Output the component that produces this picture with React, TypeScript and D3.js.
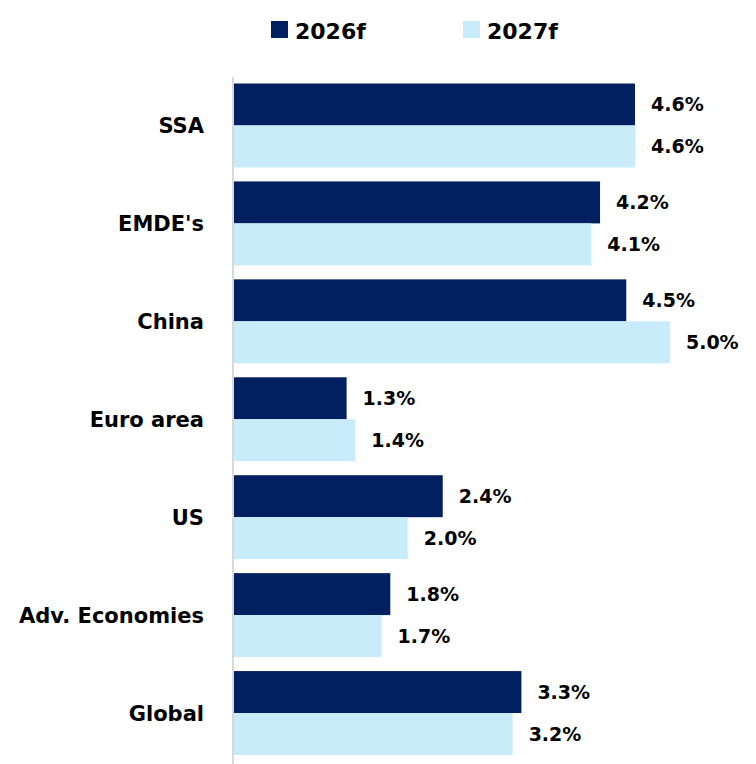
import React from "react";
import * as d3 from "d3";

const categories = ["SSA", "EMDE's", "China", "Euro area", "US", "Adv. Economies", "Global"];
const series2026 = [4.6, 4.2, 4.5, 1.3, 2.4, 1.8, 3.3];
const series2027 = [4.6, 4.1, 5.0, 1.4, 2.0, 1.7, 3.2];
const seriesNames = ["2026f", "2027f"];
const colors = ["#002060", "#c9ecfb"];

const W = 756;
const H = 764;
const FONT = "'DejaVu Sans', sans-serif";

export default function App() {
  const x = d3.scaleLinear().domain([0, 4.6]).range([233, 635]);
  const y = d3
    .scaleBand<string>()
    .domain(categories)
    .range([76.5, 762])
    .paddingInner(0.143)
    .paddingOuter(0.0715);
  const sub = d3.scaleBand<string>().domain(seriesNames).range([0, y.bandwidth()]);
  const all = [series2026, series2027];

  return (
    <svg width={W} height={H} style={{ position: "absolute", left: 0, top: 0, background: "#fff" }}>
      {/* legend */}
      {seriesNames.map((s, i) => (
        <g key={s} transform={`translate(${i === 0 ? 271 : 463},0)`}>
          <rect x={0} y={21} width={17} height={17} fill={colors[i]} />
          <text x={24} y={39} fontFamily={FONT} fontWeight="bold" fontSize={22} fill="#000">
            {s}
          </text>
        </g>
      ))}
      {/* bars */}
      {categories.map((c, ci) => (
        <g key={c}>
          {all.map((vals, si) => {
            const y0 = (y(c) as number) + (sub(seriesNames[si]) as number);
            return (
              <g key={si}>
                <rect
                  x={x(0)}
                  y={y0}
                  width={x(vals[ci]) - x(0)}
                  height={sub.bandwidth()}
                  fill={colors[si]}
                />
                <text
                  x={x(vals[ci]) + 16}
                  y={y0 + sub.bandwidth() / 2}
                  dy="0.36em"
                  fontFamily={FONT}
                  fontWeight="bold"
                  fontSize={19}
                  fill="#000"
                >
                  {vals[ci].toFixed(1) + "%"}
                </text>
              </g>
            );
          })}
          <text
            x={204}
            y={(y(c) as number) + y.bandwidth() / 2}
            dy="0.36em"
            textAnchor="end"
            fontFamily={FONT}
            fontWeight="bold"
            fontSize={21}
            fill="#000"
          >
            {c}
          </text>
        </g>
      ))}
      {/* axis line */}
      <line x1={233} x2={233} y1={77} y2={764} stroke="#d9d9d9" strokeWidth={2} />
    </svg>
  );
}
